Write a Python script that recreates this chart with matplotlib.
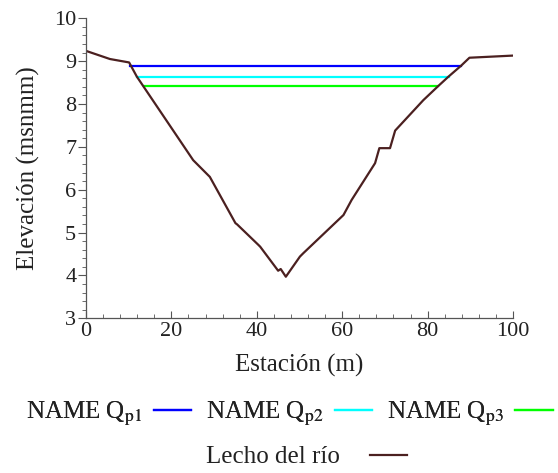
import matplotlib

matplotlib.use("Agg")
import matplotlib.pyplot as plt
from matplotlib.lines import Line2D
from matplotlib.ticker import MultipleLocator

plt.rcParams["font.family"] = "serif"
plt.rcParams["font.serif"] = ["Liberation Serif"]
plt.rcParams["mathtext.fontset"] = "stix"

# river bed profile (station m, elevation msnmm)
station = [0, 5.6, 10.1, 11.9, 25.1, 29.0, 35.0, 35.4, 40.4, 40.8, 45.0, 45.6,
           46.8, 50.1, 50.9, 60.3, 62.2, 67.7, 68.7, 71.2, 72.4, 79.0, 82.5,
           84.9, 87.8, 89.8, 100.0]
elevation = [9.24, 9.05, 8.97, 8.64, 6.69, 6.30, 5.22, 5.19, 4.71, 4.67, 4.11,
             4.15, 3.97, 4.44, 4.52, 5.41, 5.76, 6.62, 6.97, 6.97, 7.38, 8.09,
             8.42, 8.64, 8.89, 9.08, 9.13]

# water surfaces for the three discharges
water_labels = [r"NAME Q$_{\mathrm{p1}}$", r"NAME Q$_{\mathrm{p2}}$", r"NAME Q$_{\mathrm{p3}}$"]
water_level = [8.89, 8.63, 8.42]
water_left = [10.3, 11.9, 13.6]
water_right = [87.8, 84.9, 82.5]
water_colors = ["#0000ff", "#00ffff", "#00ff00"]
bed_color = "#4b2020"

fig = plt.figure(figsize=(5.58, 4.73), dpi=100)
ax = fig.add_axes([86 / 558, 1 - 318.3 / 473, 427 / 558, 300 / 473])

for lvl, x0, x1, c in zip(water_level, water_left, water_right, water_colors):
    ax.plot([x0, x1], [lvl, lvl], color=c, lw=1.6)
ax.plot(station, elevation, color=bed_color, lw=1.6)

ax.set_xlim(0, 100)
ax.set_ylim(3, 10)
ax.xaxis.set_major_locator(MultipleLocator(20))
ax.xaxis.set_minor_locator(MultipleLocator(4))
ax.yaxis.set_major_locator(MultipleLocator(1))
ax.yaxis.set_minor_locator(MultipleLocator(0.2))

for side in ("top", "right"):
    ax.spines[side].set_visible(False)
for side in ("left", "bottom"):
    ax.spines[side].set_color("#555555")
    ax.spines[side].set_linewidth(0.9)

ax.tick_params(axis="x", which="both", direction="in", colors="#555555",
               labelcolor="#222222", labelsize=16, pad=3)
ax.tick_params(axis="x", which="major", length=5)
ax.tick_params(axis="x", which="minor", length=3)
ax.tick_params(axis="y", which="both", direction="out", colors="#555555",
               labelcolor="#222222", labelsize=16, pad=1)
ax.tick_params(axis="y", which="major", length=6)
ax.tick_params(axis="y", which="minor", length=3)

ax.set_xlabel("Estación (m)", fontsize=18, color="#222222", labelpad=9)
ax.set_ylabel("Elevación (msnmm)", fontsize=18, color="#222222", labelpad=10)

handles = [Line2D([], [], color=c, lw=1.6) for c in water_colors]
leg1 = fig.legend(handles, water_labels, ncol=3, loc="center",
                  bbox_to_anchor=(0.519, 1 - 414 / 473), frameon=False,
                  markerfirst=False, fontsize=18, handlelength=1.5,
                  handletextpad=0.45, columnspacing=0.6, labelcolor="#222222")
leg2 = fig.legend([Line2D([], [], color=bed_color, lw=1.6)], ["Lecho del río"],
                  loc="center", bbox_to_anchor=(0.549, 1 - 457 / 473),
                  frameon=False, markerfirst=False, fontsize=18,
                  handlelength=1.5, handletextpad=1.2, labelcolor="#222222")
fig.add_artist(leg1)

fig.savefig("out.png", dpi=100)
